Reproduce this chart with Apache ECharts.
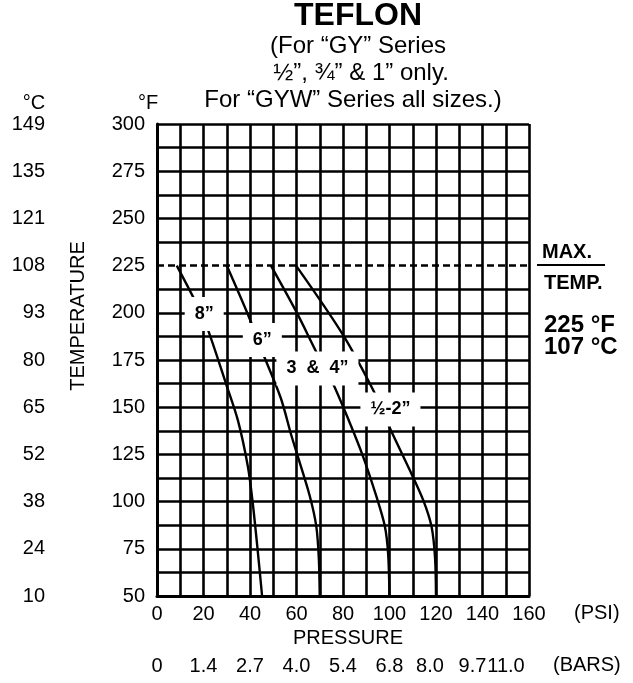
<!DOCTYPE html>
<html><head><meta charset="utf-8">
<script src="https://cdn.jsdelivr.net/npm/echarts@6/dist/echarts.min.js"></script>
<style>html,body{margin:0;padding:0;background:#fff}#c{width:633px;height:683px}</style>
</head><body><div id="c"></div>
<script>
// ---- data ----
const psiTicks = [0, 20, 40, 60, 80, 100, 120, 140, 160];
const barLabels = ['0', '1.4', '2.7', '4.0', '5.4', '6.8', '8.0', '9.7', '11.0'];
const fTicks = [50, 75, 100, 125, 150, 175, 200, 225, 250, 275, 300];
const cLabels = ['10', '24', '38', '52', '65', '80', '93', '108', '121', '135', '149'];
const maxTempF = 225;
const curve8 = [[8.5,225],[16.1,207],[21.2,193.5],[29.8,162],[34.8,143],[39.1,118.5],[41.2,99],[43.4,73],[45.2,50]];
const curve6 = [[30,225],[39.8,197],[45.4,179],[53.2,155],[57.8,135],[60.3,125],[65.7,103],[68.5,87],[69.6,70],[70,50]];
const curve34 = [[49,225],[59.9,200.6],[69.2,177.6],[75,164.4],[82.5,143],[88.6,124],[94.4,102.6],[98,87],[99.4,72.6],[100,50]];
const curve12 = [[59.8,225],[80,188.3],[94.4,155.6],[99.4,141],[108.7,116.7],[114.5,100.8],[118.1,86.7],[119.6,70],[120,50]];
const curveNames = ['8\u201D', '6\u201D', '3  &  4\u201D', '\u00BD-2\u201D'];
const curveLabelPos = [[20.3,199.4],[45.3,185.6],[69,170.5],[100.4,148.8]];

// ---- chart ----
const FONT = "'Liberation Sans', Arial, Helvetica, sans-serif";
const chart = echarts.init(document.getElementById('c'));
const yColors = [];
for (let v = 50; v <= 300; v += 12.5) yColors.push(v === maxTempF ? 'rgba(0,0,0,0)' : '#000');
const barShift = {120: 6, 140: 10, 160: 23};
const barRich = {};
[0,6,10,23].forEach(s => { barRich['s' + s] = {fontSize: 20, fontFamily: FONT, color: '#000', padding: [0, 2 * s, 0, 0]}; });

const lineSeries = (data) => ({
  type: 'line', data: data, showSymbol: false, smooth: 0.3,
  lineStyle: {color: '#000', width: 2.4}, xAxisIndex: 0, yAxisIndex: 0, silent: true, z: 3
});
const s8 = lineSeries(curve8);
s8.markLine = {
  silent: true, symbol: ['none', 'none'], label: {show: false},
  lineStyle: {color: '#000', type: [7, 4], width: 2.6},
  data: [{yAxis: maxTempF}]
};

const txt = (text, x, y, size, opts) => Object.assign({
  type: 'text', x: x, y: y, z: 100,
  style: {text: text, fill: '#000', font: (opts && opts.bold ? 'bold ' : '') + size + 'px ' + FONT,
    align: (opts && opts.align) || 'center', verticalAlign: 'middle'}
}, opts && opts.rotation ? {rotation: opts.rotation} : {});

chart.setOption({
  animation: false,
  backgroundColor: '#fff',
  grid: {left: 157, right: 104, top: 124, bottom: 87},
  xAxis: [{
    type: 'value', min: 0, max: 160, interval: 10,
    axisLine: {show: true, lineStyle: {color: '#000', width: 3}},
    axisTick: {show: false},
    splitLine: {show: true, lineStyle: {color: '#000', width: 2.6}},
    axisLabel: {margin: 8, fontSize: 20, fontFamily: FONT, color: '#000',
      formatter: v => psiTicks.indexOf(v) >= 0 ? String(v) : ''}
  }, {
    type: 'value', min: 0, max: 160, interval: 20, position: 'bottom', offset: 52,
    axisLine: {show: false}, axisTick: {show: false}, splitLine: {show: false},
    axisLabel: {margin: 8, fontSize: 20, fontFamily: FONT, color: '#000', rich: barRich,
      formatter: v => { const i = psiTicks.indexOf(v); if (i < 0) return ''; const s = barShift[v] || 0; return '{s' + s + '|' + barLabels[i] + '}'; }}
  }],
  yAxis: [{
    type: 'value', min: 50, max: 300, interval: 12.5,
    axisLine: {show: true, lineStyle: {color: '#000', width: 3}},
    axisTick: {show: false},
    splitLine: {show: true, lineStyle: {color: yColors, width: 2.6}},
    axisLabel: {margin: 12, fontSize: 20, fontFamily: FONT, color: '#000',
      formatter: v => fTicks.indexOf(v) >= 0 ? String(v) : ''}
  }, {
    type: 'value', min: 50, max: 300, interval: 25, position: 'left', offset: 100,
    axisLine: {show: false}, axisTick: {show: false}, splitLine: {show: false},
    axisLabel: {margin: 12, fontSize: 20, fontFamily: FONT, color: '#000',
      formatter: v => { const i = fTicks.indexOf(v); return i >= 0 ? cLabels[i] : ''; }}
  }],
  series: [
    s8, lineSeries(curve6), lineSeries(curve34), lineSeries(curve12),
    {
      type: 'scatter', xAxisIndex: 0, yAxisIndex: 0, symbolSize: 2, silent: true, z: 10,
      itemStyle: {color: '#fff', opacity: 1},
      data: curveLabelPos.map((p, i) => ({name: curveNames[i], value: p})),
      label: {show: true, position: 'inside', formatter: '{b}', fontSize: 18, fontWeight: 'bold',
        fontFamily: FONT, color: '#000', opacity: 1, backgroundColor: '#fff', padding: [8, 10]},
      emphasis: {disabled: true}
    }
  ],
  graphic: [
    txt('TEFLON', 358, 16, 32, {bold: true}),
    txt('(For \u201CGY\u201D Series', 358, 46, 24),
    txt('\u00BD\u201D, \u00BE\u201D & 1\u201D only.', 361, 73, 24),
    txt('For \u201CGYW\u201D Series all sizes.)', 353, 100, 24),
    txt('\u00B0C', 34, 103, 20),
    txt('\u00B0F', 148, 103, 20),
    txt('TEMPERATURE', 78, 316, 20, {rotation: Math.PI / 2}),
    txt('MAX.', 542, 252, 20, {bold: true, align: 'left'}),
    {type: 'line', z: 100, shape: {x1: 537, y1: 265, x2: 605, y2: 265}, style: {stroke: '#000', lineWidth: 2}},
    txt('TEMP.', 544, 283, 20, {bold: true, align: 'left'}),
    txt('225 \u00B0F', 544, 325, 24, {bold: true, align: 'left'}),
    txt('107 \u00B0C', 544, 347, 24, {bold: true, align: 'left'}),
    txt('(PSI)', 574, 613, 20, {align: 'left'}),
    txt('PRESSURE', 348, 638, 20),
    txt('(BARS)', 553, 665, 20, {align: 'left'})
  ]
});
</script></body></html>
